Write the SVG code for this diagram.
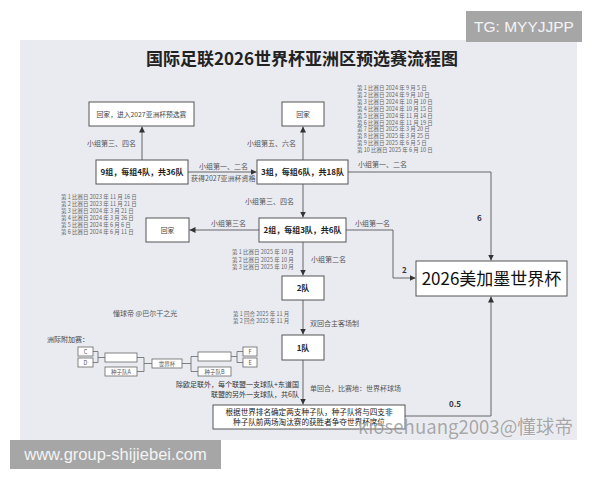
<svg xmlns="http://www.w3.org/2000/svg" width="600" height="480" viewBox="0 0 600 480">
<style>
.cjk{font-family:"Noto Sans CJK SC","Noto Sans",sans-serif}
.box{fill:#fff;stroke:#555;stroke-width:1}
.sbox{fill:#fff;stroke:#666;stroke-width:0.8}
.node{font-size:8px;font-weight:bold;fill:#222;text-anchor:middle}
.lite{font-size:6.8px;fill:#444;text-anchor:middle}
.lbl{font-size:7px;fill:#555}
.date{font-size:5.5px;fill:#666}
.num{font-size:8px;fill:#333;font-weight:bold}
.con{fill:none;stroke:#666;stroke-width:1}
.brk{fill:none;stroke:#666;stroke-width:0.8}
.small{font-size:5.5px;fill:#555;text-anchor:middle}
</style>
<defs>
<marker id="arr" markerUnits="userSpaceOnUse" markerWidth="8" markerHeight="8" refX="6" refY="3" orient="auto">
<path d="M0,0 L6,3 L0,6 Z" fill="#333"/>
</marker>
</defs>
<rect x="0" y="0" width="600" height="480" fill="#ffffff"/>
<rect x="20" y="40" width="557" height="400" fill="#e9ebf1"/>
<g id="tg"><rect x="466" y="11" width="116" height="31" fill="#a6a6a6"/><text x="524" y="32" font-family="Liberation Sans, Arial, sans-serif" font-size="15.5" fill="#f4f4f4" text-anchor="middle">TG: MYYJJPP</text></g>
<text class="cjk" x="302" y="65" font-size="17" font-weight="bold" fill="#222" text-anchor="middle">国际足联2026世界杯亚洲区预选赛流程图</text>

<g id="connectors">
<path class="con" d="M142,160 V126.5" marker-end="url(#arr)"/>
<path class="con" d="M188,172 H256.5" marker-end="url(#arr)"/>
<path class="con" d="M303,160 V126.5" marker-end="url(#arr)"/>
<path class="con" d="M348,172 H491 V260.5" marker-end="url(#arr)"/>
<path class="con" d="M303,184 V217.5" marker-end="url(#arr)"/>
<path class="con" d="M259,230 H189.5" marker-end="url(#arr)"/>
<path class="con" d="M346,230 H393 V278 H415.5" marker-end="url(#arr)"/>
<path class="con" d="M303,242 V275.5" marker-end="url(#arr)"/>
<path class="con" d="M303,300 V334.5" marker-end="url(#arr)"/>
<path class="con" d="M303,360 V404.5" marker-end="url(#arr)"/>
<path class="con" d="M405,416 H491 V296.5" marker-end="url(#arr)"/>
</g>

<g id="n_home2027"><rect class="box" x="89" y="102" width="105" height="24"/><text class="cjk lite" x="141.5" y="116.5">回家，进入2027亚洲杯预选赛</text></g>
<g id="n_home1"><rect class="box" x="282" y="102" width="42" height="24"/><text class="cjk lite" x="303" y="116.5">回家</text></g>
<g id="n_r2"><rect class="box" x="96" y="160" width="92" height="24"/><text class="cjk node" x="142" y="175">9组，每组4队，共36队</text></g>
<g id="n_r3"><rect class="box" x="257" y="160" width="91" height="24"/><text class="cjk node" x="302.5" y="175">3组，每组6队，共18队</text></g>
<g id="n_home2"><rect class="box" x="146" y="218" width="43" height="24"/><text class="cjk lite" x="167.5" y="232.5">回家</text></g>
<g id="n_r4"><rect class="box" x="259" y="218" width="87" height="24"/><text class="cjk node" x="302.5" y="233">2组，每组3队，共6队</text></g>
<g id="n_wc"><rect class="box" x="416" y="261" width="151" height="35"/><text class="cjk" x="491.5" y="284.5" font-size="17" fill="#111" text-anchor="middle">2026美加墨世界杯</text></g>
<g id="n_2"><rect class="box" x="282" y="276" width="42" height="24"/><text class="cjk node" x="303" y="291">2队</text></g>
<g id="n_1"><rect class="box" x="282" y="335" width="42" height="25"/><text class="cjk node" x="303" y="350.5">1队</text></g>
<g id="n_playoff"><rect class="box" x="213" y="405" width="192" height="24"/>
<text class="cjk" x="309" y="415" font-size="7.6" fill="#222" text-anchor="middle">根据世界排名确定两支种子队，种子队将与四支非</text>
<text class="cjk" x="309" y="424.5" font-size="7.6" fill="#222" text-anchor="middle">种子队前两场淘汰赛的获胜者争夺世界杯席位</text></g>

<g id="labels" class="cjk">
<text class="lbl" x="87" y="145.5">小组第三、四名</text>
<text class="lbl" x="247" y="145.5">小组第五、六名</text>
<text class="lbl" x="199" y="169">小组第一、二名</text>
<text class="lbl" x="191" y="180.5">获得2027亚洲杯资格</text>
<text class="lbl" x="358" y="166.5">小组第一、二名</text>
<text class="lbl" x="245" y="203.5">小组第三、四名</text>
<text class="lbl" x="211" y="225.5">小组第三名</text>
<text class="lbl" x="355" y="225.5">小组第一名</text>
<text class="lbl" x="311" y="261.5">小组第二名</text>
<text class="lbl" x="310" y="325.5">双回合主客场制</text>
<text class="lbl" x="310" y="390.5">单回合，比赛地：世界杯球场</text>
<text class="num" x="477" y="221">6</text>
<text class="num" x="402" y="273">2</text>
<text class="num" x="449" y="407">0.5</text>
<text class="lbl" x="113" y="315.5" font-size="7.5" fill="#444">懂球帝 @巴尔干之光</text>
</g>

<g id="dates1" class="cjk date">
<text x="357" y="90">第 1 比赛日 2024 年 9 月 5 日</text>
<text x="357" y="96.9">第 2 比赛日 2024 年 9 月 10 日</text>
<text x="357" y="103.8">第 3 比赛日 2024 年 10 月 10 日</text>
<text x="357" y="110.7">第 4 比赛日 2024 年 10 月 15 日</text>
<text x="357" y="117.6">第 5 比赛日 2024 年 11 月 14 日</text>
<text x="357" y="124.5">第 6 比赛日 2024 年 11 月 19 日</text>
<text x="357" y="131.4">第 7 比赛日 2025 年 3 月 20 日</text>
<text x="357" y="138.3">第 8 比赛日 2025 年 3 月 25 日</text>
<text x="357" y="145.2">第 9 比赛日 2025 年 6 月 5 日</text>
<text x="357" y="152.1">第 10 比赛日 2025 年 6 月 10 日</text>
</g>
<g id="dates2" class="cjk date">
<text x="61" y="199">第 1 比赛日 2023 年 11 月 16 日</text>
<text x="61" y="206">第 2 比赛日 2023 年 11 月 21 日</text>
<text x="61" y="213">第 3 比赛日 2024 年 3 月 21 日</text>
<text x="61" y="220">第 4 比赛日 2024 年 3 月 26 日</text>
<text x="61" y="227">第 5 比赛日 2024 年 6 月 6 日</text>
<text x="61" y="234">第 6 比赛日 2024 年 6 月 11 日</text>
</g>
<g id="dates3" class="cjk date">
<text x="232" y="254">第 1 比赛日 2025 年 10 月</text>
<text x="232" y="261.5">第 2 比赛日 2025 年 10 月</text>
<text x="232" y="269">第 3 比赛日 2025 年 10 月</text>
</g>
<g id="dates4" class="cjk date">
<text x="233" y="316">第 1 回合 2025 年 11 月</text>
<text x="233" y="323">第 2 回合 2025 年 11 月</text>
</g>

<g id="intercontinental" class="cjk">
<text x="47" y="342" font-size="7" fill="#444">洲际附加赛：</text>
<g id="p_c"><rect class="sbox" x="78" y="347" width="15" height="9"/><text class="small" x="85.5" y="353.8">C</text></g>
<g id="p_d"><rect class="sbox" x="78" y="358" width="15" height="9"/><text class="small" x="85.5" y="364.8">D</text></g>
<g id="p_w1"><rect class="sbox" x="105" y="353" width="32" height="9"/></g>
<g id="p_sa"><rect class="sbox" x="105" y="367" width="32" height="9"/><text class="small" x="121" y="373.5">种子队A</text></g>
<g id="p_wc"><rect class="sbox" x="152" y="359" width="30" height="9"/><text class="small" x="167" y="365.5">世界杯</text></g>
<g id="p_w2"><rect class="sbox" x="198" y="352" width="33" height="9"/></g>
<g id="p_sb"><rect class="sbox" x="198" y="367" width="33" height="9"/><text class="small" x="214.5" y="373.5">种子队B</text></g>
<g id="p_f"><rect class="sbox" x="243" y="347" width="14" height="9"/><text class="small" x="250" y="353.8">F</text></g>
<g id="p_e"><rect class="sbox" x="243" y="358" width="14" height="9"/><text class="small" x="250" y="364.8">E</text></g>
<path class="brk" d="M93,351.5 H98 V362.5 H93 M98,357.5 H105"/>
<path class="brk" d="M137,357.5 H144 V371.5 H137 M144,363.5 H152"/>
<path class="brk" d="M182,363.5 H191 M191,356.5 V371.5 M191,356.5 H198 M191,371.5 H198"/>
<path class="brk" d="M231,356.5 H237 M237,351.5 V362.5 M237,351.5 H243 M237,362.5 H243"/>
<text x="299" y="387" font-size="7" fill="#333" text-anchor="end">除欧足联外，每个联盟一支球队+东道国</text>
<text x="299" y="397" font-size="7" fill="#333" text-anchor="end">联盟的另外一支球队，共6队</text>
</g>

<text class="cjk" x="358" y="434" font-size="19" textLength="215" lengthAdjust="spacingAndGlyphs" fill="#8a8a8a" opacity="0.7" stroke="#ffffff" stroke-width="0.6" paint-order="stroke">kiosehuang2003@懂球帝</text>
<g id="www"><rect x="10" y="440" width="211" height="29" fill="#a6a6a6"/><text x="115.5" y="460" font-family="Liberation Sans, Arial, sans-serif" font-size="16.5" fill="#f4f4f4" text-anchor="middle">www.group-shijiebei.com</text></g>
</svg>
